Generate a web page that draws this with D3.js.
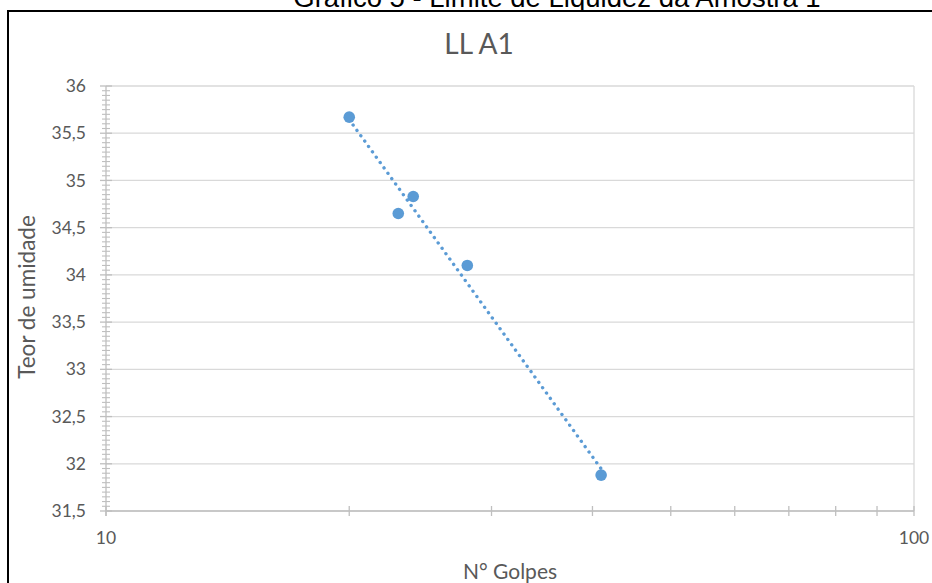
<!doctype html>
<html>

<head>
    <title>
        LL A1
    </title>
    <style>
        body { margin: 0; background: #ffffff; overflow: hidden; }
    </style>
</head>

<body>
    <script src="https://d3js.org/d3.v7.min.js"></script>
    <script>
    // data
    var golpes = [20, 23, 24, 28, 41];
    var umidade = [35.67, 34.65, 34.83, 34.1, 31.88];

    // axis ticks
    var yTicks = [31.5, 32, 32.5, 33, 33.5, 34, 34.5, 35, 35.5, 36];
    var xTickLabels = [10, 100];
    var xMinorTicks = [20, 30, 40, 50, 60, 70, 80, 90];

    // canvas size
    var canvas = { width: 932, height: 583 };

    // plot area edges
    var plot = { left: 106, right: 914, top: 86, bottom: 511 };

    var gridColor = "#d9d9d9";
    var axisColor = "#bfbfbf";
    var textColor = "#595959";
    var pointColor = "#5b9bd5";

    var svg = d3.select("body")
        .append("svg")
        .attr("width", canvas.width)
        .attr("height", canvas.height)

    // scales - log for x, linear for y
    var x = d3.scaleLog()
        .domain([10, 100])
        .range([plot.left, plot.right]);

    var y = d3.scaleLinear()
        .domain([31.5, 36])
        .range([plot.bottom, plot.top]);

    // comma as decimal separator
    function fmt(d) {
        return String(d).replace(".", ",");
    }

    // caption above the frame (cut by the top edge, as in the original)
    svg.append("text")
        .attr("x", 557)
        .attr("y", 7)
        .style("text-anchor", "middle")
        .style("font-family", "Liberation Sans, Arial, sans-serif")
        .style("font-size", "27.5px")
        .attr("fill", "#000000")
        .text("Gráfico 5 - Limite de Liquidez da Amostra 1")

    // black frame round the chart
    svg.append("rect")
        .attr("x", 8)
        .attr("y", 11)
        .attr("width", 1000)
        .attr("height", 1000)
        .attr("fill", "#ffffff")
        .attr("stroke", "#000000")
        .attr("stroke-width", 2)

    // horizontal gridlines
    svg.append("g")
        .selectAll("line")
        .data(yTicks)
        .enter()
        .append("line")
        .attr("x1", plot.left)
        .attr("x2", plot.right)
        .attr("y1", function(d) { return y(d); })
        .attr("y2", function(d) { return y(d); })
        .attr("stroke", gridColor)
        .attr("stroke-width", 1.3)

    // vertical gridline at 100
    svg.append("line")
        .attr("x1", x(100))
        .attr("x2", x(100))
        .attr("y1", plot.top)
        .attr("y2", plot.bottom)
        .attr("stroke", gridColor)
        .attr("stroke-width", 1.3)

    // y axis - labels
    var yAxis = d3.axisLeft(y)
        .tickValues(yTicks)
        .tickFormat(fmt)
        .tickSize(0)
        .tickPadding(20);

    var gy = svg.append("g")
        .attr("transform", "translate(" + plot.left + ",0)")
        .call(yAxis)

    gy.select(".domain").remove();
    gy.selectAll("text")
        .style("font-family", "Lato, sans-serif")
        .style("font-size", "17.5px")
        .attr("fill", textColor)

    // y axis line
    svg.append("line")
        .attr("x1", plot.left)
        .attr("x2", plot.left)
        .attr("y1", plot.top)
        .attr("y2", plot.bottom + 5)
        .attr("stroke", axisColor)
        .attr("stroke-width", 1.3)

    // y major tick marks (cross)
    svg.append("g")
        .selectAll("line")
        .data(yTicks)
        .enter()
        .append("line")
        .attr("x1", plot.left - 6)
        .attr("x2", plot.left + 6)
        .attr("y1", function(d) { return y(d); })
        .attr("y2", function(d) { return y(d); })
        .attr("stroke", axisColor)
        .attr("stroke-width", 1.3)

    // y minor tick marks every 0.05
    var yMinor = d3.range(0, 91)
        .map(function(i) { return 31.5 + i * 0.05; })
        .filter(function(d, i) { return i % 10 !== 0; });

    svg.append("g")
        .selectAll("line")
        .data(yMinor)
        .enter()
        .append("line")
        .attr("x1", plot.left - 4)
        .attr("x2", plot.left + 4)
        .attr("y1", function(d) { return y(d); })
        .attr("y2", function(d) { return y(d); })
        .attr("stroke", axisColor)
        .attr("stroke-width", 1.1)

    // x axis line
    svg.append("line")
        .attr("x1", plot.left)
        .attr("x2", plot.right)
        .attr("y1", plot.bottom)
        .attr("y2", plot.bottom)
        .attr("stroke", axisColor)
        .attr("stroke-width", 1.3)

    // x tick marks (cross)
    svg.append("g")
        .selectAll("line")
        .data(xTickLabels.concat(xMinorTicks))
        .enter()
        .append("line")
        .attr("x1", function(d) { return x(d); })
        .attr("x2", function(d) { return x(d); })
        .attr("y1", plot.bottom - 5)
        .attr("y2", plot.bottom + 5)
        .attr("stroke", axisColor)
        .attr("stroke-width", 1.3)

    // x tick labels
    svg.append("g")
        .selectAll("text")
        .data(xTickLabels)
        .enter()
        .append("text")
        .attr("x", function(d) { return x(d); })
        .attr("y", 544)
        .style("text-anchor", "middle")
        .style("font-family", "Lato, sans-serif")
        .style("font-size", "17.5px")
        .attr("fill", textColor)
        .text(function(d) { return d; })

    // chart title
    svg.append("text")
        .attr("x", 479)
        .attr("y", 54)
        .style("text-anchor", "middle")
        .style("font-family", "Lato, sans-serif")
        .style("font-size", "28px")
        .attr("fill", textColor)
        .text("LL A1")

    // x axis title
    svg.append("text")
        .attr("x", (plot.left + plot.right) / 2)
        .attr("y", 579)
        .style("text-anchor", "middle")
        .style("font-family", "Lato, sans-serif")
        .style("font-size", "21px")
        .attr("fill", textColor)
        .text("N° Golpes")

    // y axis title
    svg.append("text")
        .attr("transform", "translate(35,297) rotate(-90)")
        .style("text-anchor", "middle")
        .style("font-family", "Lato, sans-serif")
        .style("font-size", "22.5px")
        .attr("fill", textColor)
        .text("Teor de umidade")

    // logarithmic trendline  y = a*ln(x) + b
    var lx = golpes.map(function(d) { return Math.log(d); });
    var mx = d3.mean(lx);
    var my = d3.mean(umidade);
    var sxy = d3.sum(lx, function(d, i) { return (d - mx) * (umidade[i] - my); });
    var sxx = d3.sum(lx, function(d) { return (d - mx) * (d - mx); });
    var a = sxy / sxx;
    var b = my - a * mx;

    var xExt = d3.extent(golpes);
    var trend = d3.range(0, 41).map(function(i) {
        var g = xExt[0] * Math.pow(xExt[1] / xExt[0], i / 40);
        return [g, a * Math.log(g) + b];
    });

    svg.append("path")
        .datum(trend)
        .attr("d", d3.line()
            .x(function(d) { return x(d[0]); })
            .y(function(d) { return y(d[1]); }))
        .attr("fill", "none")
        .attr("stroke", pointColor)
        .attr("stroke-width", 3.4)
        .attr("stroke-dasharray", "0.01 6.6")
        .attr("stroke-linecap", "round")

    // data points
    svg.append("g")
        .selectAll("circle")
        .data(golpes)
        .enter()
        .append("circle")
        .attr("cx", function(d) { return x(d); })
        .attr("cy", function(d, i) { return y(umidade[i]); })
        .attr("r", 5.8)
        .attr("fill", pointColor)
    </script>
</body>

</html>
